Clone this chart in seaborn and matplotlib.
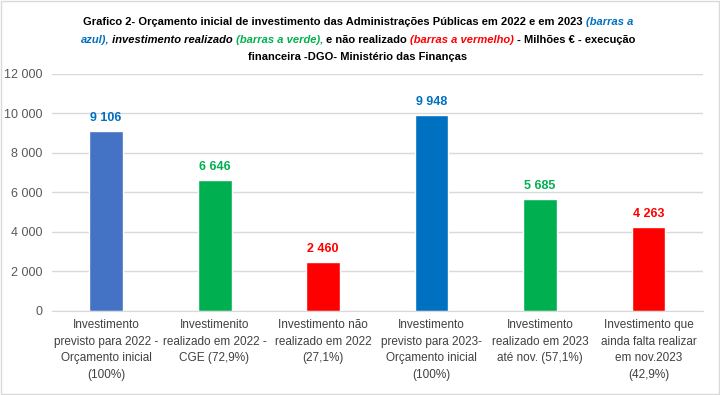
import matplotlib
matplotlib.use("Agg")
import matplotlib.pyplot as plt
import matplotlib.patches as mpatches
import seaborn as sns
import pandas as pd

categories = [
    "Investimento\nprevisto para 2022 -\nOrçamento inicial\n(100%)",
    "Investimenito\nrealizado em 2022 -\nCGE (72,9%)",
    "Investimento não\nrealizado em 2022\n(27,1%)",
    "Investimento\nprevisto para 2023-\nOrçamento inicial\n(100%)",
    "Investimento\nrealizado em 2023\naté nov. (57,1%)",
    "Investimento que\nainda falta realizar\nem nov.2023\n(42,9%)",
]
values = [9106, 6646, 2460, 9948, 5685, 4263]
bar_colors = ["#4472C4", "#00B050", "#FF0000", "#0070C0", "#00B050", "#FF0000"]
label_colors = ["#0070C0", "#00B050", "#FF0000", "#0070C0", "#00B050", "#FF0000"]
yticks = [0, 2000, 4000, 6000, 8000, 10000, 12000]

# title pieces: (text, colour, italic)
title_lines = [
    [("Grafico 2- Orçamento inicial de investimento das Administrações Públicas em 2022 e em 2023 ", "black", False),
     ("(barras a", "#0070C0", True)],
    [("azul),", "#0070C0", True), (" investimento realizado", "black", True),
     (" (barras a verde),", "#00B050", True), (" e não realizado ", "black", False),
     ("(barras a vermelho)", "#FF0000", True), (" - Milhões € - execução", "black", False)],
    [("financeira -DGO- Ministério das Finanças", "black", False)],
]

sns.set_style("white")
plt.rcParams["font.family"] = ["Liberation Sans", "DejaVu Sans"]

df = pd.DataFrame({"cat": categories, "val": values})

fig = plt.figure(figsize=(7.2, 3.95), dpi=100)
ax = fig.add_axes([0.072, 0.2127, 0.904, 0.6])
sns.barplot(data=df, x="cat", y="val", hue="cat", palette=bar_colors,
            width=0.313, legend=False, ax=ax, saturation=1)

ax.set_ylim(0, 12000)
ax.set_yticks(yticks)
ax.set_yticklabels([f"{v:,}".replace(",", " ") for v in yticks], color="#595959", fontsize=9)
ax.yaxis.grid(True, color="#D9D9D9", linewidth=1)
ax.set_axisbelow(True)
for s in ["top", "right", "left"]:
    ax.spines[s].set_visible(False)
ax.spines["bottom"].set_color("#D9D9D9")
ax.tick_params(axis="y", length=0, pad=7)
ax.tick_params(axis="x", length=0, pad=6)
ax.set_xticks(range(len(categories)))
ax.set_xticklabels(categories, color="#404040", fontsize=8.5, linespacing=1.5, va="top")
ax.set_xlabel(""); ax.set_ylabel("")

for i, v in enumerate(values):
    ax.annotate(f"{v:,}".replace(",", " "), (i, v), xytext=(0, 5), textcoords="offset points",
                ha="center", va="bottom", color=label_colors[i], fontsize=9, fontweight="bold")

# multi-coloured title, centred line by line
renderer = fig.canvas.get_renderer()
line_y = [373, 355, 338]
W = 720
for pieces, ypx in zip(title_lines, line_y):
    texts = []
    for txt, col, it in pieces:
        t = fig.text(0, ypx / 395, txt, color=col, fontsize=8.0, fontweight="bold",
                     style="italic" if it else "normal", va="center", ha="left")
        texts.append(t)
    widths = [t.get_window_extent(renderer).width for t in texts]
    x = (W - sum(widths)) / 2 - 2
    for t, w in zip(texts, widths):
        t.set_x(x / W)
        x += w

fig.patches.append(mpatches.Rectangle((0.002, 0.003), 0.996, 0.994, transform=fig.transFigure,
                                      fill=False, edgecolor="#D9D9D9", linewidth=1))

fig.savefig("out.png", dpi=100)
